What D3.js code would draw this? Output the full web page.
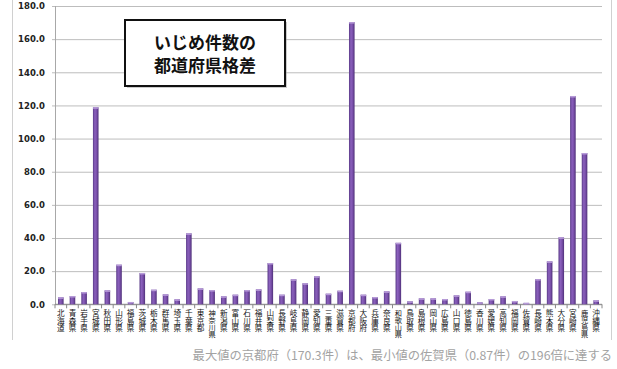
<!DOCTYPE html>
<html>
<head>
<meta charset="utf-8">
<script src="https://cdn.jsdelivr.net/npm/d3@7"></script>
<style>
  html, body { margin: 0; padding: 0; background: #fff; }
  svg { display: block; }
</style>
</head>
<body>
<div id="chart"></div>
<script>
// Data
const prefectures = ["北海道","青森県","岩手県","宮城県","秋田県","山形県","福島県","茨城県","栃木県","群馬県",
  "埼玉県","千葉県","東京都","神奈川県","新潟県","富山県","石川県","福井県","山梨県","長野県",
  "岐阜県","静岡県","愛知県","三重県","滋賀県","京都府","大阪府","兵庫県","奈良県","和歌山県",
  "鳥取県","島根県","岡山県","広島県","山口県","徳島県","香川県","愛媛県","高知県","福岡県",
  "佐賀県","長崎県","熊本県","大分県","宮崎県","鹿児島県","沖縄県"];
const bullyingCases = [4.2, 5.0, 7.4, 118.9, 8.4, 23.9, 1.4, 18.9, 8.8, 6.0,
  3.0, 42.8, 9.6, 8.6, 4.8, 5.8, 8.6, 9.0, 24.9, 5.8,
  15.1, 12.7, 16.9, 6.4, 8.2, 170.3, 5.8, 4.4, 7.8, 37.1,
  1.8, 3.6, 3.6, 3.2, 5.4, 7.6, 1.2, 3.2, 4.8, 2.0,
  0.87, 15.2, 25.9, 40.4, 125.7, 91.3, 2.4];
const yTicks = [0, 20, 40, 60, 80, 100, 120, 140, 160, 180];
const titleLines = ["いじめ件数の", "都道府県格差"];
const footnote = "最大値の京都府（170.3件）は、最小値の佐賀県（0.87件）の196倍に達する";

const width = 617, height = 369;
const plot = { left: 55, right: 602, top: 6, bottom: 304.3 };

const svg = d3.select("#chart").append("svg")
  .attr("width", width)
  .attr("height", height);

// bar gradient
const defs = svg.append("defs");
const grad = defs.append("linearGradient").attr("id", "barGrad")
  .attr("x1", "0").attr("x2", "1").attr("y1", "0").attr("y2", "0");
grad.append("stop").attr("offset", "0%").attr("stop-color", "#5a3a88");
grad.append("stop").attr("offset", "35%").attr("stop-color", "#8a60bc");
grad.append("stop").attr("offset", "65%").attr("stop-color", "#7a50aa");
grad.append("stop").attr("offset", "100%").attr("stop-color", "#4e3078");

// outer chart border (left / right)
svg.append("line").attr("x1", 12.5).attr("x2", 12.5).attr("y1", 0).attr("y2", 340)
  .attr("stroke", "#d0d0d0");
svg.append("line").attr("x1", 611.5).attr("x2", 611.5).attr("y1", 0).attr("y2", 340)
  .attr("stroke", "#d0d0d0");

const x = d3.scaleBand()
  .domain(prefectures)
  .range([plot.left, plot.right])
  .paddingInner(0.52)
  .paddingOuter(0.26);

const step = (plot.right - plot.left) / prefectures.length;

const y = d3.scaleLinear()
  .domain([0, 180])
  .range([plot.bottom, plot.top]);

// gridlines + y axis
const yAxis = svg.append("g")
  .attr("transform", `translate(${plot.left},0)`)
  .call(d3.axisLeft(y).tickValues(yTicks).tickFormat(d3.format(".1f"))
    .tickSize(-(plot.right - plot.left)).tickPadding(10));
yAxis.select(".domain").remove();
yAxis.selectAll(".tick line")
  .attr("stroke", "#bdbdbd")
  .attr("x1", -3);
yAxis.selectAll(".tick text")
  .attr("fill", "#222")
  .style("font-family", "'DejaVu Sans', sans-serif")
  .style("font-weight", "bold")
  .style("font-size", "8.5px");

// y axis line
svg.append("line")
  .attr("x1", plot.left + 0.5).attr("x2", plot.left + 0.5)
  .attr("y1", y(180)).attr("y2", y(0))
  .attr("stroke", "#a8a8a8");

// x axis line + ticks between categories
svg.append("line")
  .attr("x1", plot.left).attr("x2", plot.right)
  .attr("y1", y(0)).attr("y2", y(0))
  .attr("stroke", "#888");
svg.selectAll(".xtick")
  .data(d3.range(prefectures.length + 1))
  .join("line")
  .attr("x1", i => plot.left + i * step)
  .attr("x2", i => plot.left + i * step)
  .attr("y1", y(0))
  .attr("y2", y(0) + 4)
  .attr("stroke", "#888");

// bars
const data = prefectures.map((p, i) => ({ name: p, value: bullyingCases[i] }));
const bars = svg.append("g");
bars.selectAll("rect")
  .data(data)
  .join("rect")
  .attr("x", d => x(d.name))
  .attr("y", d => y(d.value))
  .attr("width", x.bandwidth())
  .attr("height", d => y(0) - y(d.value))
  .attr("fill", "url(#barGrad)");
// lighter caps on bar tops
bars.selectAll("rect.cap")
  .data(data)
  .join("rect")
  .attr("class", "cap")
  .attr("x", d => x(d.name))
  .attr("y", d => y(d.value))
  .attr("width", x.bandwidth())
  .attr("height", 1.5)
  .attr("fill", "#b79bd8");

// category labels (vertical, upright glyphs)
svg.append("g").selectAll("text")
  .data(prefectures)
  .join("text")
  .attr("x", d => x(d) + x.bandwidth() / 2)
  .attr("y", y(0) + 5)
  .style("writing-mode", "vertical-rl")
  .style("font-family", "'Noto Sans CJK JP', sans-serif")
  .style("font-size", d => d.length > 3 ? "7.2px" : "7.6px")
  .attr("fill", "#111")
  .text(d => d);

// title box
const box = svg.append("g");
box.append("rect")
  .attr("x", 127).attr("y", 22).attr("width", 160).attr("height", 66)
  .attr("fill", "#999").attr("opacity", 0.5);
box.append("rect")
  .attr("x", 125).attr("y", 20).attr("width", 160).attr("height", 66)
  .attr("fill", "#fff").attr("stroke", "#111").attr("stroke-width", 2);
box.selectAll("text")
  .data(titleLines)
  .join("text")
  .attr("x", 205)
  .attr("y", (d, i) => 41 + i * 23)
  .attr("text-anchor", "middle")
  .attr("dominant-baseline", "central")
  .style("font-family", "'Noto Sans CJK JP', sans-serif")
  .style("font-weight", "bold")
  .style("font-size", "17px")
  .attr("fill", "#111")
  .text(d => d);

// footnote
svg.append("text")
  .attr("x", 612)
  .attr("y", 360)
  .attr("text-anchor", "end")
  .style("font-family", "'Noto Sans CJK JP', sans-serif")
  .style("font-size", "12.3px")
  .attr("fill", "#a3a3a3")
  .text(footnote);
</script>
</body>
</html>
